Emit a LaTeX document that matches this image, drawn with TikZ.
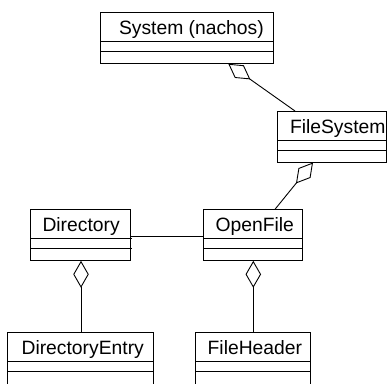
\documentclass[tikz,border=0pt]{standalone}
\usepackage{fontspec}
\setmainfont{Liberation Sans}
\usetikzlibrary{arrows.meta,calc}

% One UML class box: name, left, top, width, label, label inset
\newcommand{\umlclass}[6]{%
  \node[classbox, minimum width=#4pt, anchor=north west] (#1) at (#2,#3) {};
  \node[classname, anchor=base west] (#1-name) at ($(#1.north west)+(#6,22)$) {#5};
  \draw[divider] ($(#1.north west)+(0,29)$) -- ($(#1.north east)+(1,29)$);
  \draw[divider] ($(#1.north west)+(0,39)$) -- ($(#1.north east)+(1,39)$);
}

\tikzset{
  classbox/.style={draw=black, line width=0.9pt, fill=white, rectangle,
    minimum height=51.5pt, inner sep=0pt, outer sep=0pt},
  classname/.style={inner sep=0pt, outer sep=0pt,
    font=\fontsize{19.3}{23}\selectfont},
  divider/.style={draw=black, line width=0.9pt},
  link/.style={draw=black, line width=0.9pt},
  aggregation/.style={link, {Diamond[open, length=27pt, width=15.5pt]}-},
}

\begin{document}
\begin{tikzpicture}[x=1pt, y=-1pt]
  \useasboundingbox (0,0) rectangle (388,383);
  \clip (0,0) rectangle (388,383);

  \umlclass{sys}{100.7}{12.3}{172.3}{System (nachos)}{18.3}
  \umlclass{fs}{277.3}{111}{108.7}{FileSystem}{12.7}
  \umlclass{dir}{30}{209.3}{100.7}{Directory}{12.5}
  \umlclass{of}{203.3}{209.3}{99}{OpenFile}{12.3}
  \umlclass{de}{7.3}{332.5}{146}{DirectoryEntry}{14.3}
  \umlclass{fh}{195.7}{332.5}{114.3}{FileHeader}{12}

  % connector end points on the box borders
  \coordinate (sys-fs) at ($(sys.south west)+(127.6,0)$);
  \coordinate (fs-sys) at ($(fs.north west)+(17.7,0)$);
  \coordinate (fs-of) at ($(fs.south west)+(35.7,0)$);
  \coordinate (of-fs) at ($(of.north west)+(71.7,0)$);
  \coordinate (dir-of) at ($(dir.north east)+(0,26.7)$);
  \coordinate (of-dir) at ($(of.north west)+(0,26.7)$);
  \coordinate (dir-de) at ($(dir.south west)+(51,0)$);
  \coordinate (de-dir) at ($(de.north west)+(73.7,0)$);
  \coordinate (of-fh) at ($(of.south west)+(50,0)$);
  \coordinate (fh-of) at ($(fh.north west)+(57.6,0)$);

  \draw[aggregation] (sys-fs) -- (fs-sys);
  \draw[aggregation] (fs-of) -- (of-fs);
  \draw[link] (dir-of) -- (of-dir);
  \draw[aggregation] (dir-de) -- (de-dir);
  \draw[aggregation] (of-fh) -- (fh-of);
\end{tikzpicture}
\end{document}
